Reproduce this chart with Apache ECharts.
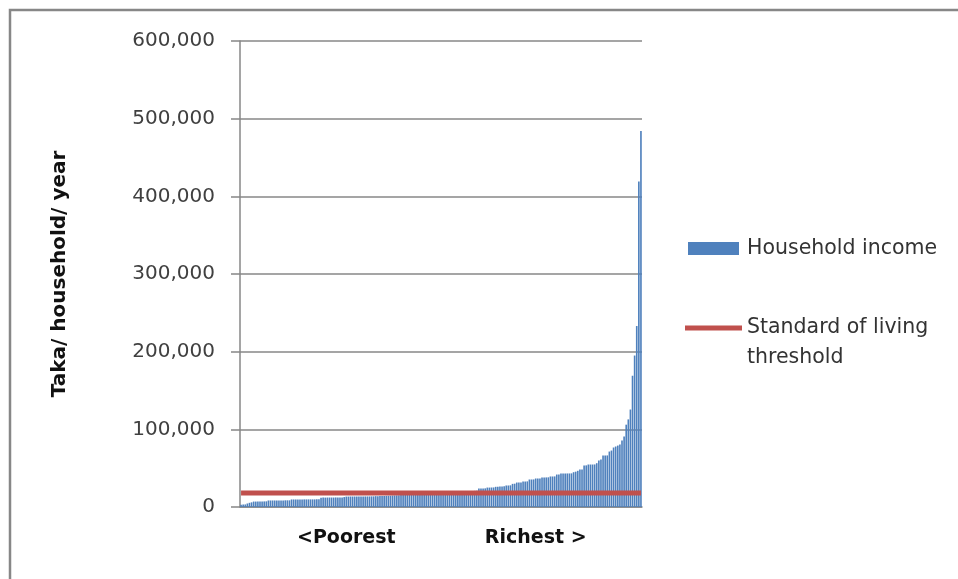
<!DOCTYPE html>
<html>
<head>
<meta charset="utf-8">
<script src="https://cdn.jsdelivr.net/npm/echarts@6/dist/echarts.min.js"></script>
<style>
  html, body { margin: 0; padding: 0; background: #fff; }
  #chart { width: 958px; height: 579px; }
</style>
</head>
<body>
<div id="chart"></div>
<script>
// Annual household income (Taka), households sorted from poorest to richest
const incomeLowest = [
  3000, 3100, 3300, 4500, 5400,
  6000, 7000, 7000, 7100, 7100, 7200, 7200, 7300,
  8400, 8400, 8400, 8400, 8500, 8500, 8500, 8500, 8600, 8600, 8600,
  9700, 9700, 9700, 9700, 9700, 9700, 9800, 9800, 9800, 9800, 9800, 9800, 9900, 9900,
  12000, 12100, 12100, 12200, 12200, 12200, 12200, 12300, 12300, 12300, 12300,
  12800,
  13400, 13400, 13500, 13500, 13500, 13500, 13500, 13500, 13600, 13600, 13600, 13600, 13700, 13700
];
const incomeMiddle = [
  14000, 14000, 14100, 14200, 14300, 14400, 14500, 14600, 14800, 14900,
  15000, 15100, 15300, 15400, 15500, 15600, 15800, 15900, 16000, 16200,
  16300, 16500, 16600, 16800, 16900, 17000, 17200, 17300, 17500, 17600,
  17800, 17900, 18000, 18200, 18400, 18500, 18700, 18900, 19000, 19200,
  19400, 19600, 19800, 20000, 20200, 20400, 20600, 20800, 21000
];
const incomeHighest = [
  23800, 23800, 23900, 24000, 25000, 25000, 25100, 25200, 26000, 26000,
  26500, 26500, 26600, 27700, 27700, 27900, 29800, 30000, 31500, 31500,
  31600, 32800, 32800, 33000, 35400, 35400, 35500, 36700, 36700, 36800,
  38000, 38000, 38100, 38200, 39300, 39300, 39400, 41800, 41900, 43100,
  43100, 43100, 43200, 43200, 43300, 44800, 45500, 46600, 48300, 48400,
  53400, 53600, 54700, 54700, 54700, 54800, 56400, 59800, 61100, 66300,
  66300, 66400, 71400, 72700, 76600, 77900, 79100, 80400, 85600, 90800,
  106000, 112800, 125500, 169000, 195000, 233000, 419000, 484000
];
const householdIncome = incomeLowest.concat(incomeMiddle, incomeHighest);

// Standard of living threshold (Taka / household / year)
const thresholdValue = 18000;

// Rank labels shown under the axis: [household index, text]
const rankLabels = [[50, '<Poorest'], [140, 'Richest >']];

// Value axis
const yMin = 0, yMax = 600000, yStep = 100000;

const categories = householdIncome.map((_, i) => {
  const hit = rankLabels.find(r => r[0] === i);
  return hit ? hit[1] : '';
});
const thresholdSeries = categories.map(() => thresholdValue);

const chart = echarts.init(document.getElementById('chart'), null, { renderer: 'canvas' });
chart.setOption({
  animation: false,
  backgroundColor: '#ffffff',
  graphic: [{
    type: 'rect',
    shape: { x: 10, y: 10, width: 1000, height: 1000 },
    style: { fill: 'none', stroke: '#878787', lineWidth: 2.5 },
    silent: true
  }],
  grid: { left: 240, right: 316, top: 41, bottom: 72 },
  legend: [{
    left: 683, top: 231.5, orient: 'vertical', selectedMode: false,
    icon: 'rect', itemWidth: 51, itemHeight: 13,
    data: ['Household income'],
    textStyle: { fontFamily: 'DejaVu Sans', fontSize: 20.5, color: '#333', lineHeight: 24, padding: [0, 0, 0, 3] }
  }, {
    left: 680, top: 278, orient: 'vertical', selectedMode: false,
    icon: 'rect', itemWidth: 57, itemHeight: 5,
    data: ['Standard of living threshold'],
    formatter: () => '\nStandard of living\nthreshold',
    textStyle: { fontFamily: 'DejaVu Sans', fontSize: 20.5, color: '#333', lineHeight: 30 }
  }],
  xAxis: {
    type: 'category',
    data: categories,
    boundaryGap: true,
    axisLine: { lineStyle: { color: '#878787', width: 1.5 } },
    axisTick: { show: false },
    axisLabel: {
      interval: 0, margin: 22, color: '#111',
      fontFamily: 'DejaVu Sans', fontWeight: 'bold', fontSize: 19
    },
    splitLine: { show: false }
  },
  yAxis: {
    type: 'value',
    min: yMin, max: yMax, interval: yStep,
    name: 'Taka/ household/ year',
    nameLocation: 'middle', nameGap: 170, nameRotate: 90,
    nameTextStyle: { fontFamily: 'DejaVu Sans', fontWeight: 'bold', fontSize: 20, color: '#111' },
    axisLine: { show: true, lineStyle: { color: '#878787', width: 1.5 } },
    axisTick: { show: true, inside: false, length: 9, lineStyle: { color: '#878787', width: 1.5 } },
    axisLabel: {
      margin: 25, color: '#404040', fontFamily: 'DejaVu Sans', fontSize: 20,
      formatter: v => v.toLocaleString('en-US')
    },
    splitLine: { show: true, lineStyle: { color: '#878787', width: 1.5 } }
  },
  series: [{
    name: 'Household income',
    type: 'bar',
    data: householdIncome,
    barCategoryGap: '22%',
    itemStyle: { color: '#4f81bd' }
  }, {
    name: 'Standard of living threshold',
    type: 'line',
    data: thresholdSeries,
    symbol: 'none',
    lineStyle: { color: '#c0504d', width: 5 },
    itemStyle: { color: '#c0504d' }
  }]
});
</script>
</body>
</html>
